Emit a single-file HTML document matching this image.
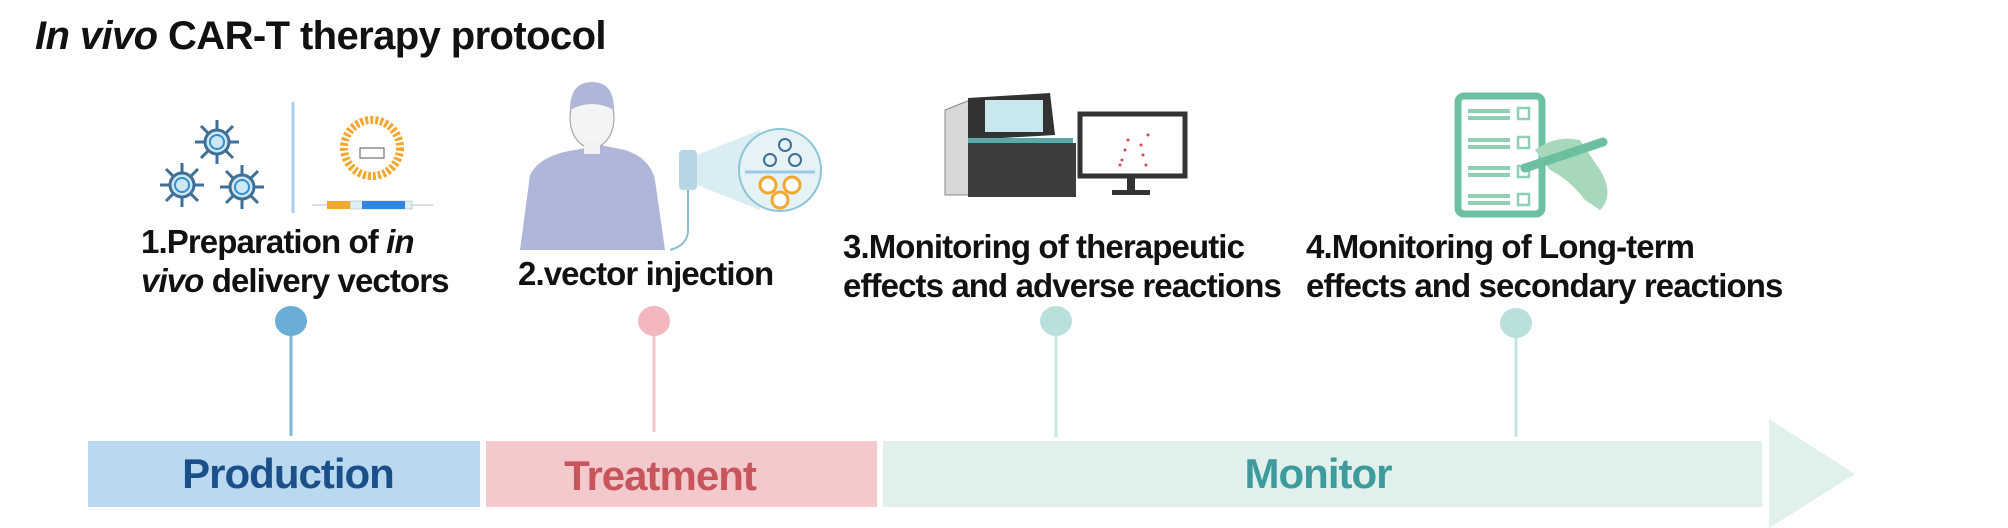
<!DOCTYPE html>
<html><head><meta charset="utf-8"><style>
html,body{margin:0;padding:0;background:#fff;}
body{width:2008px;height:528px;overflow:hidden;position:relative;font-family:"Liberation Sans",sans-serif;}
.t{position:absolute;font-weight:bold;color:#111;white-space:nowrap;font-size:33px;letter-spacing:-0.9px;line-height:39px;}
</style></head><body>
<svg width="2008" height="528" style="position:absolute;left:0;top:0">
<rect x="88" y="441" width="392" height="66" fill="#b9d9f1"/>
<rect x="486" y="441" width="391" height="66" fill="#f3c9cb"/>
<rect x="883" y="441" width="879" height="66" fill="#e0f0ec"/>
<polygon points="1769,419 1855,474 1769,528" fill="#e0f0ec"/>
<text x="288" y="488" text-anchor="middle" font-family="Liberation Sans" font-weight="bold" font-size="42" fill="#1b4f8a" letter-spacing="-1">Production</text>
<text x="660" y="490" text-anchor="middle" font-family="Liberation Sans" font-weight="bold" font-size="42" fill="#c8545c" letter-spacing="-1">Treatment</text>
<text x="1318" y="488" text-anchor="middle" font-family="Liberation Sans" font-weight="bold" font-size="42" fill="#3e9b9c" letter-spacing="-1">Monitor</text>
<line x1="291" y1="321" x2="291" y2="436" stroke="#7ab8dd" stroke-width="3"/>
<ellipse cx="291" cy="321" rx="16" ry="15" fill="#6aaed6"/>
<line x1="654" y1="321" x2="654" y2="432" stroke="#f4c6cb" stroke-width="3"/>
<ellipse cx="654" cy="321" rx="16" ry="15" fill="#f2b8bd"/>
<line x1="1056" y1="321" x2="1056" y2="437" stroke="#c5e5e2" stroke-width="3"/>
<ellipse cx="1056" cy="321" rx="16" ry="15" fill="#b9e0dc"/>
<line x1="1516" y1="323" x2="1516" y2="437" stroke="#c5e5e2" stroke-width="3"/>
<ellipse cx="1516" cy="323" rx="16" ry="15" fill="#b9e0dc"/>
<g fill="none" stroke="#3f6f95" stroke-width="3">
<g transform="translate(217,142)"><circle r="12" fill="#cfe6f5"/><circle r="7" stroke="#2f8fd0" stroke-width="2"/><path d="M0-12V-22M0 12V22M-12 0H-22M12 0H22M8-8L16-16M-8-8L-16-16M8 8L16 16M-8 8L-16 16"/></g>
<g transform="translate(182,185)"><circle r="12" fill="#cfe6f5"/><circle r="7" stroke="#2f8fd0" stroke-width="2"/><path d="M0-12V-22M0 12V22M-12 0H-22M12 0H22M8-8L16-16M-8-8L-16-16M8 8L16 16M-8 8L-16 16"/></g>
<g transform="translate(242,187)"><circle r="12" fill="#cfe6f5"/><circle r="7" stroke="#2f8fd0" stroke-width="2"/><path d="M0-12V-22M0 12V22M-12 0H-22M12 0H22M8-8L16-16M-8-8L-16-16M8 8L16 16M-8 8L-16 16"/></g>
</g>
<line x1="293" y1="102" x2="293" y2="213" stroke="#a9cfec" stroke-width="3"/>
<circle cx="372" cy="148" r="28" fill="#fff" stroke="#f0a830" stroke-width="8" stroke-dasharray="3 2"/>
<rect x="360" y="148" width="24" height="10" fill="none" stroke="#555" stroke-width="1"/>
<line x1="312" y1="205" x2="433" y2="205" stroke="#bbb" stroke-width="1"/>
<rect x="327" y="201" width="23" height="8" fill="#f0a830"/>
<rect x="350" y="201" width="62" height="8" fill="#ddeef8" stroke="#aaa" stroke-width="0.5"/>
<rect x="362" y="201" width="43" height="8" fill="#2f86e0"/>
<path d="M520 250 L530 175 Q540 155 575 150 L600 145 L625 150 Q650 158 655 180 L665 250 Z" fill="#aeb7d9"/>
<ellipse cx="592" cy="118" rx="22" ry="30" fill="#f4f4f6" stroke="#999" stroke-width="1"/>
<path d="M570 110 Q570 82 592 82 Q614 82 614 110 Q592 98 570 110Z" fill="#aeb7d9"/>
<rect x="584" y="140" width="16" height="14" fill="#f2f2f4"/>
<rect x="679" y="150" width="18" height="40" rx="4" fill="#b7d5e3"/>
<path d="M688 190 V230 Q688 245 670 250" stroke="#8bbfd6" stroke-width="2" fill="none"/>
<polygon points="697,155 760,130 760,210 697,185" fill="#d9edf3"/>
<circle cx="780" cy="170" r="41" fill="#e5f3f7" stroke="#8cc6d6" stroke-width="2"/>
<line x1="745" y1="172" x2="815" y2="172" stroke="#9ec9e6" stroke-width="3"/>
<g fill="none" stroke="#3f6f95" stroke-width="2"><circle cx="785" cy="145" r="6"/><circle cx="770" cy="160" r="6"/><circle cx="795" cy="160" r="6"/></g>
<g fill="#fff" stroke="#f0a830" stroke-width="3"><circle cx="768" cy="185" r="8"/><circle cx="792" cy="185" r="8"/><circle cx="780" cy="200" r="8"/></g>
<path d="M945 110 L970 100 L970 195 L945 195 Z" fill="#d8d8d8" stroke="#888" stroke-width="1"/>
<path d="M968 98 L1050 93 L1055 135 L968 140 Z" fill="#333"/>
<rect x="985" y="100" width="58" height="32" fill="#c9e8ee"/>
<rect x="968" y="138" width="105" height="5" fill="#5aa9a8"/>
<rect x="968" y="143" width="108" height="54" fill="#3d3d3f"/>
<rect x="1080" y="114" width="105" height="62" fill="#fff" stroke="#333" stroke-width="5"/>
<rect x="1127" y="176" width="8" height="14" fill="#333"/><rect x="1112" y="190" width="38" height="5" fill="#333"/>
<g fill="#d34a4a"><circle cx="1122" cy="160" r="1.5"/><circle cx="1125" cy="150" r="1.5"/><circle cx="1120" cy="165" r="1.5"/><circle cx="1143" cy="155" r="1.5"/><circle cx="1146" cy="165" r="1.5"/><circle cx="1141" cy="145" r="1.5"/><circle cx="1128" cy="140" r="1.5"/><circle cx="1148" cy="135" r="1.5"/></g>
<rect x="1458" y="96" width="84" height="118" rx="6" fill="#fff" stroke="#6cc0a0" stroke-width="7"/>
<g stroke="#8fd0b4" stroke-width="4"><line x1="1468" y1="111" x2="1510" y2="111"/><line x1="1468" y1="118" x2="1510" y2="118"/><line x1="1468" y1="140" x2="1510" y2="140"/><line x1="1468" y1="147" x2="1510" y2="147"/><line x1="1468" y1="168" x2="1510" y2="168"/><line x1="1468" y1="175" x2="1510" y2="175"/><line x1="1468" y1="196" x2="1510" y2="196"/><line x1="1468" y1="203" x2="1510" y2="203"/></g>
<g fill="none" stroke="#8fd0b4" stroke-width="2.5"><rect x="1518" y="108" width="11" height="11"/><rect x="1518" y="137" width="11" height="11"/><rect x="1518" y="166" width="11" height="11"/><rect x="1518" y="194" width="11" height="11"/></g>
<path d="M1535 150 Q1555 135 1580 140 L1600 170 Q1615 195 1600 210 L1585 200 Q1570 180 1550 170 Z" fill="#a8d8bc"/>
<line x1="1525" y1="168" x2="1603" y2="142" stroke="#6cc0a0" stroke-width="9" stroke-linecap="round"/>
</svg>
<div class="t" style="left:35px;top:13px;font-size:40px;line-height:46px;letter-spacing:-0.6px;"><i>In vivo</i> CAR-T therapy protocol</div>
<div class="t" style="left:141px;top:222px;">1.Preparation of <i>in</i><br><i>vivo</i> delivery vectors</div>
<div class="t" style="left:518px;top:254px;">2.vector injection</div>
<div class="t" style="left:843px;top:227px;">3.Monitoring of therapeutic<br>effects and adverse reactions</div>
<div class="t" style="left:1306px;top:227px;">4.Monitoring of Long-term<br>effects and secondary reactions</div>
</body></html>
